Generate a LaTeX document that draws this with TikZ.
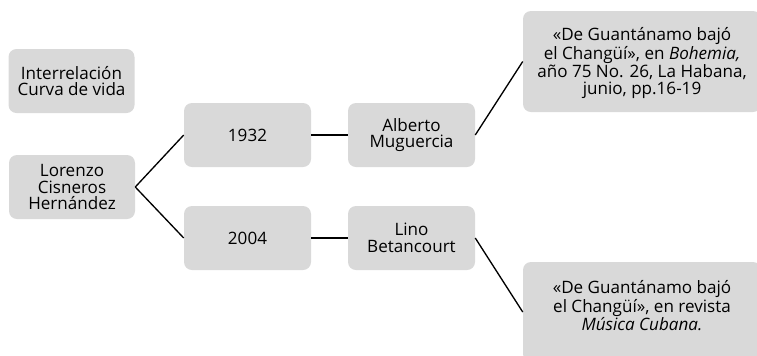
\documentclass[tikz,border=0pt]{standalone}
\usepackage{fontspec}
\setmainfont{Open Sans}
\begin{document}
\begin{tikzpicture}[x=0.75pt,y=-0.75pt,
  box/.style={fill=boxgray, rounded corners=6pt, align=center, inner sep=0pt,
    font=\fontsize{12.8}{12.6}\selectfont},
  link/.style={draw=black, line width=1pt}]
\definecolor{boxgray}{HTML}{D9D9D9}
\useasboundingbox (0,0) rectangle (757,355);
\clip (0,0) rectangle (757,355);
\node[box, minimum width=126*0.75pt, minimum height=64*0.75pt] (inter) at (71.5,81) {Interrelación\\Curva de vida};
\node[box, minimum width=126*0.75pt, minimum height=64*0.75pt] (lor) at (72,187) {Lorenzo\\Cisneros\\Hernández};
\node[box, minimum width=127*0.75pt, minimum height=64*0.75pt] (y1) at (247.5,135) {1932};
\node[box, minimum width=127*0.75pt, minimum height=64*0.75pt] (alb) at (411.5,135) {Alberto\\Muguercia};
\node[box, minimum width=127*0.75pt, minimum height=64*0.75pt] (y2) at (247.5,238) {2004};
\node[box, minimum width=127*0.75pt, minimum height=64*0.75pt] (lino) at (411.5,238) {Lino\\Betancourt};
\node[box, minimum width=238*0.75pt, minimum height=101*0.75pt] (r1) at (642,61.5) {};
\node[box] (r1t) at (642,63) {«De Guantánamo bajó\\el Changüí», en \textit{Bohemia,}\\año 75 No. 26, La Habana,\\junio, pp.16-19};
\node[box, minimum width=238*0.75pt, minimum height=100*0.75pt] (r2) at (642,312) {};
\node[box] (r2t) at (642,306) {«De Guantánamo bajó\\el Changüí», en revista\\\textit{Música Cubana.}};
\draw[link] (lor.east) -- (y1.west);
\draw[link] (lor.east) -- (y2.west);
\draw[link] (y1.east) -- (alb.west);
\draw[link] (y2.east) -- (lino.west);
\draw[link] (alb.east) -- (r1.west);
\draw[link] (lino.east) -- (r2.west);
\end{tikzpicture}
\end{document}
